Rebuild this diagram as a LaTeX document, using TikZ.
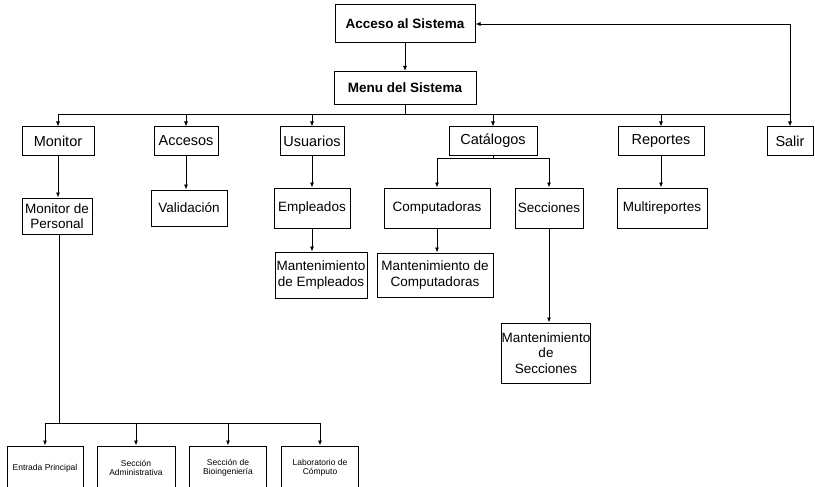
\documentclass[tikz,border=0pt]{standalone}
\usepackage{fontspec}
\setmainfont{Liberation Sans}
\usetikzlibrary{arrows.meta}
\tikzstyle{caja}=[draw, line width=1pt, inner sep=0pt, align=center]
\tikzstyle{principal}=[caja, font=\fontsize{13.5}{15}\selectfont\bfseries]
\tikzstyle{opcion}=[caja, minimum height=28, font=\fontsize{14.5}{16}\selectfont]
\tikzstyle{sub}=[caja, font=\fontsize{13.5}{15.5}\selectfont]
\tikzstyle{area}=[caja, minimum height=44, font=\fontsize{8.5}{9.5}\selectfont]
\tikzstyle{linea}=[line width=0.8pt]
\tikzstyle{flecha}=[linea, -{Latex[length=5pt,width=4pt]}]

\begin{document}
\begin{tikzpicture}[x=1pt, y=-1pt]
				\useasboundingbox (0,0) rectangle (815,487);
				\node[principal, minimum width=140, minimum height=38] (acceso) at (405,24) {Acceso al Sistema};
				\node[principal, minimum width=142, minimum height=33] (menu) at (405,88) {Menu del Sistema};
				\coordinate (bus) at (405,114);
				\node[opcion, minimum width=72] (monitor) at (58,141) {Monitor};
				\node[opcion, minimum width=64] (accesos) at (186,141) {Accesos};
				\node[opcion, minimum width=64] (usuarios) at (312,141) {Usuarios};
				\node[opcion, minimum width=88] (catalogos) at (493,141) {Catálogos};
				\node[opcion, minimum width=86] (reportes) at (661,141) {Reportes};
				\node[opcion, minimum width=46] (salir) at (790,141) {Salir};
				\node[sub, minimum width=70, minimum height=36] (monper) at (57,216) {Monitor de\\Personal};
				\node[sub, minimum width=76, minimum height=36] (validacion) at (189,208) {Validación};
				\node[sub, minimum width=76, minimum height=40] (empleados) at (312,208) {Empleados};
				\node[sub, minimum width=106, minimum height=40] (computadoras) at (437,208) {Computadoras};
				\node[sub, minimum width=68, minimum height=40] (secciones) at (549,208) {Secciones};
				\node[sub, minimum width=90, minimum height=40] (multireportes) at (662,208) {Multireportes};
				\node[sub, minimum width=92, minimum height=46] (mantemp) at (321,275) {Mantenimiento\\de Empleados};
				\node[sub, minimum width=116, minimum height=44] (mantcomp) at (435,275) {Mantenimiento de\\Computadoras};
				\node[sub, minimum width=82, minimum height=60] (mantsec) at (546,353) {Mantenimiento\\de\\Secciones};
				\coordinate (cbus) at (493,158);
				\coordinate (abus) at (59,423);
				\node[area, minimum width=76] (entrada) at (45,468) {Entrada Principal};
				\node[area, minimum width=78] (administrativa) at (136,468) {Sección\\Administrativa};
				\node[area, minimum width=77] (bioingenieria) at (228,468) {Sección de\\Bioingeniería};
				\node[area, minimum width=77] (laboratorio) at (320,468) {Laboratorio de\\Cómputo};
				\draw[flecha] (acceso) -- (menu);
				\draw[linea] (menu.south) -- (bus);
				\draw[flecha] (bus) -| (monitor.north);
				\draw[flecha] (bus) -| (accesos.north);
				\draw[flecha] (bus) -| (usuarios.north);
				\draw[flecha] (bus) -| (catalogos.north);
				\draw[flecha] (bus) -| (reportes.north);
				\draw[flecha] (bus) -| (salir.north);
				\draw[flecha] (bus -| salir.north) |- (acceso.east);
				\draw[flecha] (monitor.south) -- (monitor.south |- monper.north);
				\draw[flecha] (accesos.south) -- (accesos.south |- validacion.north);
				\draw[flecha] (usuarios.south) -- (usuarios.south |- empleados.north);
				\draw[flecha] (reportes.south) -- (reportes.south |- multireportes.north);
				\draw[linea] (catalogos.south) -- (cbus);
				\draw[flecha] (cbus) -| (computadoras.north);
				\draw[flecha] (cbus) -| (secciones.north);
				\draw[flecha] (empleados.south) -- (empleados.south |- mantemp.north);
				\draw[flecha] (computadoras.south) -- (computadoras.south |- mantcomp.north);
				\draw[flecha] (secciones.south) -- (secciones.south |- mantsec.north);
				\draw[linea] (monper.south -| abus) -- (abus);
				\draw[flecha] (abus) -| (entrada.north);
				\draw[flecha] (abus) -| (administrativa.north);
				\draw[flecha] (abus) -| (bioingenieria.north);
				\draw[flecha] (abus) -| (laboratorio.north);
			\end{tikzpicture}
\end{document}
